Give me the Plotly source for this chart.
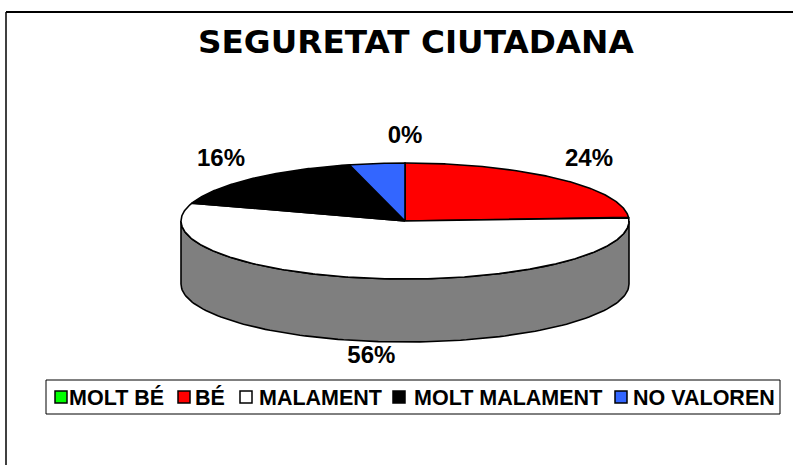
import numpy as np
import plotly.graph_objects as go

# ---- data ----
categories = ["MOLT BÉ", "BÉ", "MALAMENT", "MOLT MALAMENT", "NO VALOREN"]
values = [0, 24, 56, 16, 4]
colors = ["#00FF00", "#FF0000", "#FFFFFF", "#000000", "#3366FF"]
show_label = [True, True, True, True, False]
title_text = "SEGURETAT CIUTADANA"

# ---- geometry (pixel space of the 793x465 page) ----
CX, CY, RX, RY, DEPTH = 405, 221, 224, 58, 63
W, H = 793, 465


def shade(hexcol, f=0.5):
    h = hexcol.lstrip("#")
    r, g, b = (int(h[i:i + 2], 16) for i in (0, 2, 4))
    return "rgb(%d,%d,%d)" % (r * f, g * f, b * f)


def ell(theta_deg):
    t = np.radians(theta_deg)
    return CX + RX * np.sin(t), CY - RY * np.cos(t)


total = float(sum(values))
fig = go.Figure()

starts, ends = [], []
acc = 0.0
for v in values:
    starts.append(acc / total * 360.0)
    acc += v
    ends.append(acc / total * 360.0)

# side walls (front half only)
for cat, v, c, a0, a1 in zip(categories, values, colors, starts, ends):
    if v <= 0:
        continue
    a = max(a0, 90.0)
    b = min(a1, 270.0)
    if b <= a:
        continue
    th = np.linspace(a, b, 120)
    xt, yt = ell(th)
    xs = np.concatenate([xt, xt[::-1], xt[:1]])
    ys = np.concatenate([yt, (yt + DEPTH)[::-1], yt[:1]])
    fig.add_trace(go.Scatter(x=xs, y=ys, mode="lines", fill="toself",
                             fillcolor=shade(c), line=dict(color="black", width=1.6),
                             hoverinfo="skip", showlegend=False))

# top faces
for cat, v, c, a0, a1 in zip(categories, values, colors, starts, ends):
    if v <= 0:
        continue
    th = np.linspace(a0, a1, max(int((a1 - a0) * 2), 4))
    xt, yt = ell(th)
    xs = np.concatenate([[CX], xt, [CX]])
    ys = np.concatenate([[CY], yt, [CY]])
    fig.add_trace(go.Scatter(x=xs, y=ys, mode="lines", fill="toself",
                             fillcolor=c, line=dict(color="black", width=1.6),
                             name=cat, hoverinfo="name", showlegend=False))

# percentage labels
lx, ly, lt = [], [], []
for v, a0, a1, s in zip(values, starts, ends, show_label):
    if not s:
        continue
    mid = np.radians((a0 + a1) / 2.0)
    sx, cy_ = np.sin(mid), np.cos(mid)
    x = CX + RX * sx * 1.2
    if cy_ >= 0:
        y = CY - RY * cy_ * 1.45
    else:
        y = CY + RY * abs(cy_) + DEPTH + 15
    lx.append(x)
    ly.append(y)
    lt.append("<b>%d%%</b>" % round(v / total * 100))
fig.add_trace(go.Scatter(x=lx, y=ly, mode="text", text=lt,
                         textfont=dict(family="Liberation Sans, Arial", size=24, color="black"),
                         textposition="middle center", hoverinfo="skip", showlegend=False))

shapes = [
    dict(type="line", x0=6, y0=12, x1=W, y1=12, xref="x", yref="y",
         line=dict(color="black", width=2)),
    dict(type="line", x0=6, y0=12, x1=6, y1=H, xref="x", yref="y",
         line=dict(color="black", width=1.5)),
    dict(type="rect", x0=46, y0=380, x1=780, y1=414, xref="x", yref="y",
         line=dict(color="black", width=1), fillcolor="rgba(0,0,0,0)"),
]
annotations = [
    dict(x=416, y=42, xref="x", yref="y", text="<b>%s</b>" % title_text, showarrow=False,
         font=dict(family="DejaVu Sans", size=32.7, color="black"),
         xanchor="center", yanchor="middle"),
]

# manual legend
leg_sq_x = [55, 178, 240, 393, 615]
leg_tx_x = [68, 194, 258, 413, 632]
for cat, c, sx, tx in zip(categories, colors, leg_sq_x, leg_tx_x):
    shapes.append(dict(type="rect", x0=sx, y0=391, x1=sx + 12, y1=403, xref="x", yref="y",
                       line=dict(color="black", width=1.5), fillcolor=c))
    annotations.append(dict(x=tx - 1, y=397.5, xref="x", yref="y", text="<b>%s</b>" % cat,
                            showarrow=False, xanchor="left", yanchor="middle",
                            font=dict(family="Liberation Sans, Arial", size=21.5, color="black")))

fig.update_layout(
    width=W, height=H, autosize=False,
    margin=dict(l=0, r=0, t=0, b=0),
    paper_bgcolor="white", plot_bgcolor="white",
    xaxis=dict(range=[0, W], visible=False, fixedrange=True),
    yaxis=dict(range=[H, 0], visible=False, fixedrange=True),
    shapes=shapes, annotations=annotations, showlegend=False,
)

fig.write_html("out.html", config={"displayModeBar": False},
               post_script="document.body.style.margin='0px';document.body.style.overflow='hidden';")
